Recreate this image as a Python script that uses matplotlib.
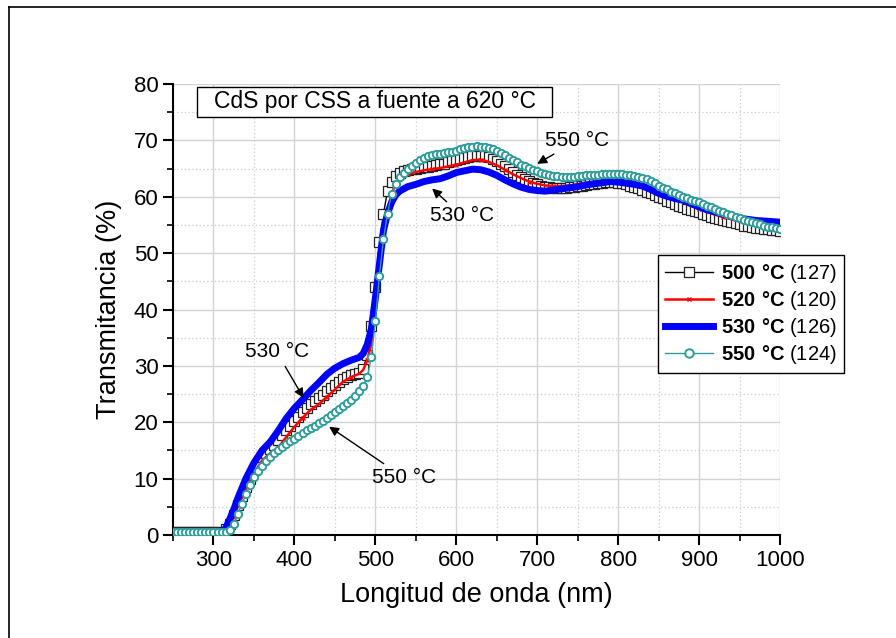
import matplotlib
matplotlib.use("Agg")
import matplotlib.pyplot as plt
from matplotlib.lines import Line2D
from matplotlib.patches import Rectangle
from matplotlib.ticker import MultipleLocator

plt.rcParams['font.family'] = ['Liberation Sans', 'DejaVu Sans']
plt.rcParams['mathtext.fontset'] = 'custom'
plt.rcParams['mathtext.rm'] = 'Liberation Sans'
plt.rcParams['mathtext.bf'] = 'Liberation Sans:bold'

# wavelength (nm) for the marker series (5 nm steps)
wl_fine = list(range(250, 1001, 5))

# wavelength (nm) for the plain line series
wl = [250, 260, 270, 280, 290, 300, 310, 315, 320, 325, 330, 340, 350, 360, 370,
      380, 390, 400, 410, 420, 430, 440, 450, 460, 470, 480, 485, 490, 495, 500,
      505, 510, 515, 520, 525, 530, 540, 550, 560, 570, 580, 590, 600, 610, 620,
      630, 640, 650, 660, 670, 680, 690, 700, 710, 720, 730, 740, 750, 760, 770,
      780, 790, 800, 810, 820, 830, 840, 850, 860, 870, 880, 890, 900, 910, 920,
      930, 940, 950, 960, 970, 980, 990, 1000]

# transmittance (%) 500 °C, on wl_fine
t500 = [0.5, 0.5, 0.5, 0.5, 0.5, 0.5, 0.5, 0.5, 0.5, 0.5,            # 250-295
        0.5, 0.5, 0.5, 1.0, 2.0, 3.5, 5.3, 6.9, 8.5, 10.0,           # 300-345
        11.5, 12.7, 13.8, 14.6, 15.3, 16.0, 16.8, 17.7, 18.6, 19.4,  # 350-395
        20.2, 21.0, 21.8, 22.5, 23.2, 23.8, 24.3, 24.9, 25.5, 26.1,  # 400-445
        26.6, 27.1, 27.6, 28.0, 28.3, 28.6, 28.8, 29.5, 32.0, 37.0,  # 450-495
        44.0, 52.0, 57.0, 61.0, 62.6, 63.6, 64.2, 64.5, 64.7, 64.9,  # 500-545
        65.0, 65.1, 65.2, 65.3, 65.4, 65.6, 65.8, 65.9, 66.1, 66.3,  # 550-595
        66.5, 66.7, 66.9, 67.0, 67.2, 67.3, 67.3, 67.2, 67.0, 66.7,  # 600-645
        66.4, 65.9, 65.4, 64.9, 64.4, 63.9, 63.5, 63.1, 62.8, 62.5,  # 650-695
        62.2, 62.0, 61.8, 61.7, 61.6, 61.6, 61.6, 61.6, 61.7, 61.8,  # 700-745
        61.9, 62.0, 62.1, 62.2, 62.3, 62.4, 62.5, 62.6, 62.6, 62.6,  # 750-795
        62.5, 62.4, 62.2, 62.0, 61.8, 61.5, 61.2, 60.9, 60.6, 60.3,  # 800-845
        60.0, 59.7, 59.3, 59.0, 58.7, 58.4, 58.2, 57.9, 57.7, 57.5,  # 850-895
        57.3, 57.0, 56.8, 56.5, 56.3, 56.1, 55.9, 55.7, 55.5, 55.3,  # 900-945
        55.1, 54.9, 54.8, 54.6, 54.5, 54.4, 54.3, 54.2, 54.1, 54.05, # 950-995
        54.0]                                                        # 1000

# transmittance (%) 550 °C, on wl_fine
t550 = [0.5, 0.5, 0.5, 0.5, 0.5, 0.5, 0.5, 0.5, 0.5, 0.5,            # 250-295
        0.5, 0.5, 0.5, 0.5, 0.9, 2.0, 3.8, 5.5, 7.2, 8.8,            # 300-345
        10.3, 11.4, 12.3, 13.1, 13.9, 14.5, 15.0, 15.6, 16.2, 16.7,  # 350-395
        17.1, 17.6, 18.1, 18.6, 19.0, 19.4, 19.8, 20.3, 20.8, 21.3,  # 400-445
        21.8, 22.3, 22.8, 23.4, 24.0, 24.7, 25.5, 26.5, 28.0, 31.5,  # 450-495
        38.0, 46.0, 52.5, 57.0, 60.5, 62.3, 63.5, 64.3, 64.9, 65.5,  # 500-545
        66.0, 66.5, 66.9, 67.2, 67.4, 67.5, 67.6, 67.7, 67.9, 68.0,  # 550-595
        68.2, 68.4, 68.6, 68.8, 68.9, 69.0, 68.9, 68.8, 68.7, 68.5,  # 600-645
        68.2, 67.8, 67.4, 66.9, 66.5, 66.1, 65.7, 65.4, 65.1, 64.8,  # 650-695
        64.6, 64.3, 64.1, 63.9, 63.7, 63.6, 63.5, 63.5, 63.5, 63.5,  # 700-745
        63.6, 63.7, 63.8, 63.8, 63.9, 63.9, 64.0, 64.0, 64.1, 64.1,  # 750-795
        64.1, 64.0, 63.9, 63.8, 63.7, 63.5, 63.3, 63.1, 62.8, 62.4,  # 800-845
        62.0, 61.6, 61.3, 60.9, 60.6, 60.3, 60.0, 59.7, 59.5, 59.2,  # 850-895
        59.0, 58.7, 58.4, 58.1, 57.8, 57.5, 57.3, 57.0, 56.8, 56.5,  # 900-945
        56.2, 55.9, 55.7, 55.5, 55.3, 55.1, 54.9, 54.7, 54.6, 54.4,  # 950-995
        54.3]                                                        # 1000

# transmittance (%) 520 °C and 530 °C, on wl
t520 = [0.5, 0.5, 0.5, 0.5, 0.5, 0.5, 0.5, 0.8, 1.8, 3.2, 5.0, 8.2, 11.0, 13.2, 14.5,
        15.5, 17.4, 19.2, 20.8, 22.2, 23.2, 24.5, 25.8, 27.2, 28.0, 28.6, 29.3, 31.0, 34.0, 40.0,
        47.0, 53.0, 57.5, 60.5, 62.3, 63.2, 64.0, 64.4, 64.7, 64.9, 65.1, 65.4, 65.7, 66.1, 66.5,
        66.6, 66.2, 65.6, 64.8, 64.0, 63.3, 62.7, 62.3, 62.0, 61.9, 61.9, 62.0, 62.2, 62.4, 62.6,
        62.8, 63.0, 63.0, 62.8, 62.5, 62.1, 61.6, 61.0, 60.3, 59.6, 59.0, 58.4, 57.8, 57.3, 56.8,
        56.4, 56.0, 55.6, 55.3, 55.0, 54.8, 54.6, 54.5]
t530 = [0.5, 0.5, 0.5, 0.5, 0.5, 0.5, 0.6, 1.2, 2.8, 4.5, 6.5, 10.0, 12.8, 15.0, 16.5,
        18.5, 20.7, 22.5, 24.0, 25.6, 27.0, 28.5, 29.6, 30.4, 31.0, 31.5, 32.2, 33.8, 36.5, 42.0,
        48.0, 54.0, 57.0, 59.0, 60.3, 61.0, 61.8, 62.2, 62.7, 63.0, 63.2, 63.7, 64.3, 64.6, 64.9,
        64.8, 64.4, 63.8, 63.0, 62.3, 61.7, 61.3, 61.1, 61.0, 61.2, 61.4, 61.6, 61.8, 62.1, 62.3,
        62.5, 62.7, 62.6, 62.4, 62.2, 61.9, 61.3, 60.6, 60.1, 59.7, 59.4, 58.8, 58.2, 57.7, 57.3,
        56.9, 56.5, 56.2, 56.0, 55.8, 55.7, 55.6, 55.5]

labels = [r'$\mathbf{500\ °C}$ (127)', r'$\mathbf{520\ °C}$ (120)',
          r'$\mathbf{530\ °C}$ (126)', r'$\mathbf{550\ °C}$ (124)']
teal = '#2f9c9c'

fig = plt.figure(figsize=(8.96, 6.38), dpi=100)
ax = fig.add_axes([0.1931, 0.1614, 0.6775, 0.7069])

ax.plot(wl_fine, t500, color='black', lw=1, marker='s', ms=6.5, mfc='white', mec='#222222',
        mew=0.9, label=labels[0], zorder=3)
ax.plot(wl, t520, color='red', lw=1.8, marker='x', ms=3, mew=1, markevery=3,
        label=labels[1], zorder=4)
ax.plot(wl, t530, color='blue', lw=5, label=labels[2], zorder=5)
ax.plot(wl_fine, t550, color=teal, lw=1, marker='o', ms=5.3, mfc='white', mec=teal,
        mew=1.4, label=labels[3], zorder=6)

ax.set_xlim(250, 1000)
ax.set_ylim(0, 80)
ax.xaxis.set_minor_locator(MultipleLocator(50))
ax.yaxis.set_major_locator(MultipleLocator(10))
ax.yaxis.set_minor_locator(MultipleLocator(5))
ax.set_xticks([300, 400, 500, 600, 700, 800, 900, 1000])
ax.grid(which='major', color='#d3d3d3', lw=1, ls='-', zorder=0)
ax.grid(which='minor', color='#cccccc', lw=0.9, ls=(0, (1, 2)), zorder=0)
ax.set_axisbelow(True)
for s in ['top', 'right']:
    ax.spines[s].set_visible(False)
for s in ['left', 'bottom']:
    ax.spines[s].set_linewidth(1.5)
ax.tick_params(which='major', direction='out', length=7, width=1.5, labelsize=16)
ax.tick_params(which='minor', direction='out', length=4, width=1.2)

ax.set_xlabel('Longitud de onda (nm)', fontsize=19.5, labelpad=8)
ax.set_ylabel('Transmitancia (%)', fontsize=19.5, labelpad=8)

# title box
ax.add_patch(Rectangle((0.0395, 0.9268), 0.585, 0.0665, transform=ax.transAxes,
                       facecolor='white', edgecolor='black', lw=1, zorder=7, clip_on=False))
ax.text(0.332, 0.961, 'CdS por CSS a fuente a 620 °C', transform=ax.transAxes,
        ha='center', va='center', fontsize=16.5, zorder=8)

arrow = dict(arrowstyle='-|>', color='black', lw=1, mutation_scale=14)
ax.annotate('530 °C', xy=(413, 23.9), xytext=(378, 32.5), fontsize=15,
            ha='center', va='center', arrowprops=arrow, zorder=9)
ax.annotate('550 °C', xy=(440, 19.5), xytext=(496, 10.2), fontsize=15,
            ha='left', va='center', arrowprops=arrow, zorder=9)
ax.annotate('550 °C', xy=(697, 65.6), xytext=(710, 70.0), fontsize=15,
            ha='left', va='center', arrowprops=arrow, zorder=9)
ax.annotate('530 °C', xy=(567.6, 61.8), xytext=(567.6, 56.6), fontsize=15,
            ha='left', va='center', arrowprops=arrow, zorder=9)

leg = ax.legend(loc='upper left', bbox_to_anchor=(0.799, 0.621), fontsize=14.5,
                frameon=True, fancybox=False, edgecolor='black', framealpha=1,
                handlelength=2.4, handletextpad=0.4, borderpad=0.35, labelspacing=0.2,
                borderaxespad=0, markerscale=1.15)
leg.get_frame().set_linewidth(1)
leg.set_zorder(10)

# outer frame
fig.add_artist(Line2D([9 / 896, 9 / 896], [0, 1 - 7 / 638], color='black', lw=1.2))
fig.add_artist(Line2D([9 / 896, 1], [1 - 7 / 638, 1 - 7 / 638], color='black', lw=1.2))

fig.savefig('out.png', dpi=100)
